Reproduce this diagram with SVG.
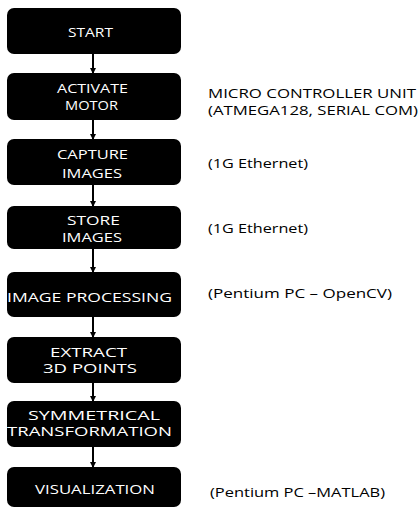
<svg xmlns="http://www.w3.org/2000/svg" width="418" height="507" viewBox="0 0 418 507">
<defs>
<marker id="ah" viewBox="0 0 6 6" refX="5" refY="3" markerWidth="3" markerHeight="3" orient="auto" markerUnits="strokeWidth">
<path d="M0,0 L6,3 L0,6 Z" fill="#000"/>
</marker>
</defs>
<style>
.box{fill:#000;stroke:none}
.bt{fill:#fff;font-family:"Open Sans","DejaVu Sans",sans-serif;font-size:12.5px;text-anchor:middle}
.lab{fill:#000;font-family:"Open Sans","DejaVu Sans",sans-serif;font-size:13px}
.con{stroke:#000;stroke-width:2;fill:none;marker-end:url(#ah)}
</style>
<rect width="418" height="507" fill="#fff"/>
<g id="connectors">
<line class="con" x1="93" y1="54" x2="93" y2="73"/>
<line class="con" x1="93" y1="120" x2="93" y2="139"/>
<line class="con" x1="93" y1="185" x2="93" y2="206"/>
<line class="con" x1="93" y1="249" x2="93" y2="272"/>
<line class="con" x1="93" y1="317" x2="93" y2="337"/>
<line class="con" x1="93" y1="383" x2="93" y2="401"/>
<line class="con" x1="93" y1="447" x2="93" y2="467"/>
</g>
<g id="start">
<rect class="box" x="7" y="8" width="174" height="46" rx="7"/>
<text class="bt" x="90.5" y="37" textLength="45" lengthAdjust="spacingAndGlyphs">START</text>
</g>
<g id="activate">
<rect class="box" x="7" y="73" width="174" height="47" rx="7"/>
<text class="bt" x="92.5" y="93" textLength="71" lengthAdjust="spacingAndGlyphs">ACTIVATE</text>
<text class="bt" x="91.5" y="110" textLength="53" lengthAdjust="spacingAndGlyphs">MOTOR</text>
</g>
<g id="capture">
<rect class="box" x="7" y="139" width="174" height="46" rx="7"/>
<text class="bt" x="92.5" y="159" textLength="71" lengthAdjust="spacingAndGlyphs">CAPTURE</text>
<text class="bt" x="92" y="178" textLength="60" lengthAdjust="spacingAndGlyphs">IMAGES</text>
</g>
<g id="store">
<rect class="box" x="7" y="206" width="174" height="43" rx="7"/>
<text class="bt" x="93.5" y="225" textLength="53" lengthAdjust="spacingAndGlyphs">STORE</text>
<text class="bt" x="92" y="242" textLength="60" lengthAdjust="spacingAndGlyphs">IMAGES</text>
</g>
<g id="processing">
<rect class="box" x="7" y="272" width="174" height="45" rx="7"/>
<text class="bt" x="89.5" y="302" textLength="165" lengthAdjust="spacingAndGlyphs">IMAGE PROCESSING</text>
</g>
<g id="extract">
<rect class="box" x="7" y="337" width="174" height="46" rx="7"/>
<text class="bt" x="88.5" y="357" textLength="77" lengthAdjust="spacingAndGlyphs">EXTRACT</text>
<text class="bt" x="90" y="373" textLength="94" lengthAdjust="spacingAndGlyphs">3D POINTS</text>
</g>
<g id="symmetrical">
<rect class="box" x="7" y="401" width="174" height="46" rx="7"/>
<text class="bt" x="94" y="420" textLength="132" lengthAdjust="spacingAndGlyphs">SYMMETRICAL</text>
<text class="bt" x="89.5" y="436" textLength="165" lengthAdjust="spacingAndGlyphs">TRANSFORMATION</text>
</g>
<g id="visualization">
<rect class="box" x="7" y="467" width="174" height="40" rx="7"/>
<text class="bt" x="95" y="494" textLength="120" lengthAdjust="spacingAndGlyphs">VISUALIZATION</text>
</g>
<g id="labels">
<text class="lab" x="208" y="98" textLength="208" lengthAdjust="spacingAndGlyphs">MICRO CONTROLLER UNIT</text>
<text class="lab" x="208" y="115" textLength="210" lengthAdjust="spacingAndGlyphs">(ATMEGA128, SERIAL COM)</text>
<text class="lab" x="208" y="168" textLength="100" lengthAdjust="spacingAndGlyphs">(1G Ethernet)</text>
<text class="lab" x="208" y="233" textLength="100" lengthAdjust="spacingAndGlyphs">(1G Ethernet)</text>
<text class="lab" x="208" y="298" textLength="184" lengthAdjust="spacingAndGlyphs">(Pentium PC – OpenCV)</text>
<text class="lab" x="210" y="497" textLength="175" lengthAdjust="spacingAndGlyphs">(Pentium PC –MATLAB)</text>
</g>
</svg>
